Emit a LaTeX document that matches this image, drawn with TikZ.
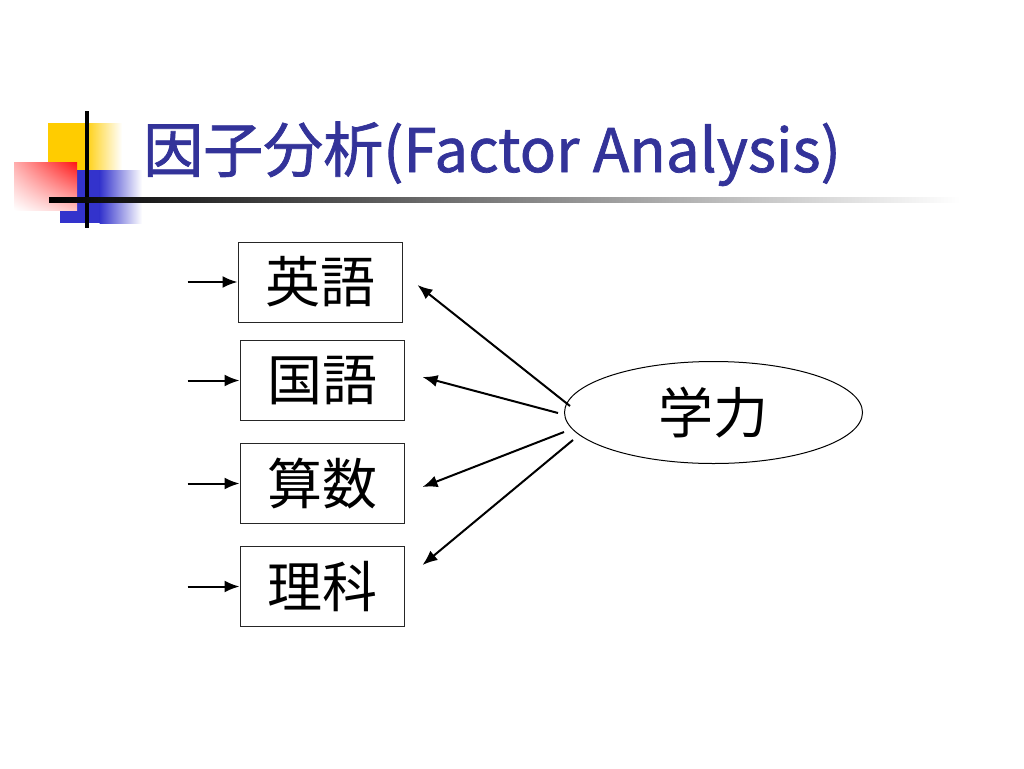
\documentclass[tikz,border=0pt]{standalone}
\usepackage{fontspec}
\setmainfont{Noto Sans CJK JP}
\newfontfamily\titlefont[FakeBold=1.2]{Noto Sans CJK JP}
\usepackage{tikz}
\usetikzlibrary{shapes,arrows.meta,shadings}
\usetikzlibrary{positioning}
\definecolor{titleblue}{RGB}{51,51,153}
\definecolor{decoyellow}{RGB}{255,204,0}
\definecolor{decoblue}{RGB}{51,51,204}
\definecolor{decored}{RGB}{255,20,20}
\tikzstyle{subject} = [draw=black!85, rectangle, minimum width=164pt,
minimum height=80pt, inner sep=0pt, line width=1pt, font=\fontsize{55}{60}\selectfont]
\tikzstyle{flow} = [draw, -{Latex[length=15pt,width=12pt]}, line width=2pt]

\begin{document}
\begin{tikzpicture}[x=1pt, y=-1pt, auto,
	factor/.style={draw, ellipse, minimum width=298pt, minimum height=102pt,
		inner sep=0pt, line width=1pt, font=\fontsize{55}{60}\selectfont}]
	\useasboundingbox (0,0) rectangle (1024,768);
	% Title decoration
	\fill [decoyellow] (48,123) rectangle (84,170);
	\shade [left color=decoyellow, right color=white] (83.5,123) rectangle (122,170);
	\fill [decoblue] (60,170) rectangle (100,223);
	\shade [left color=decoblue, right color=white] (99.5,170) rectangle (142,223);
	\shade [upper left=decored!35, upper right=decored, lower left=white, lower right=decored!25] (14,162) rectangle (77,210);
	\fill [black] (85,111) rectangle (89,228);
	\shade [left color=black, right color=white] (49,197.5) rectangle (960,202.5);
	\node [anchor=base west, inner sep=0pt, text=titleblue,
		font=\titlefont\fontsize{60}{66}\selectfont] (title) at (143,172) {因子分析(Factor Analysis)};
	%% Nodes
	\node [subject] at (320,282) (eng) {英語};
	\node [subject] at (322,380.5) (kok) {国語};
	\node [subject] at (322,483.5) (san) {算数};
	\node [subject] at (322,586.5) (rik) {理科};
	\node [factor] at (713.5,412.5) (gak) {学力};
	% Error terms
	\coordinate [left=50pt of eng] (errE);
	\coordinate [left=52pt of kok] (errK);
	\coordinate [left=52pt of san] (errS);
	\coordinate [left=52pt of rik] (errR);
	% Loadings start
	\coordinate (g1) at (570,406);
	\coordinate (g2) at (558,413);
	\coordinate (g3) at (564,432);
	\coordinate (g4) at (573,440);
	%% Flows
	% Errors
	\path [flow] (errE) to (eng.west);
	\path [flow] (errK) to (kok.west);
	\path [flow] (errS) to (san.west);
	\path [flow] (errR) to (rik.west);
	% Loadings
	\path [flow] (g1) to ([xshift=15pt, yshift=-3pt]eng.east);
	\path [flow] (g2) to ([xshift=18pt, yshift=3.5pt]kok.east);
	\path [flow] (g3) to ([xshift=18pt, yshift=-3.5pt]san.east);
	\path [flow] (g4) to ([xshift=18pt, yshift=21.5pt]rik.east);
\end{tikzpicture}
\end{document}
